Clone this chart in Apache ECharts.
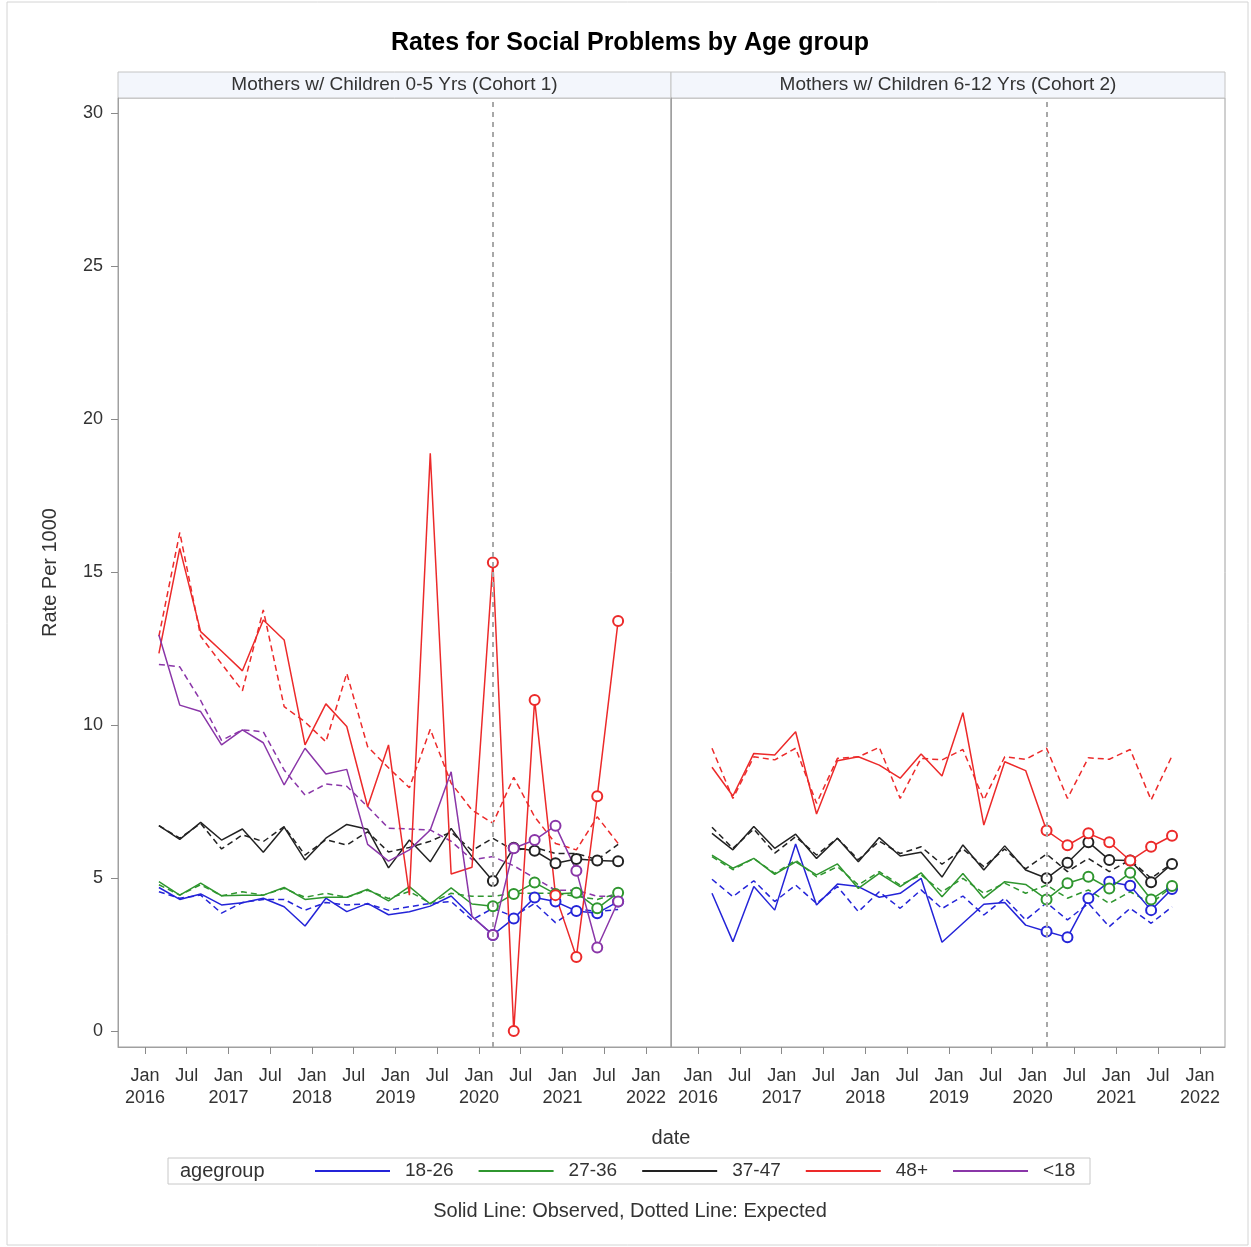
<!DOCTYPE html>
<html><head><meta charset="utf-8">
<script src="https://cdn.jsdelivr.net/npm/echarts@6/dist/echarts.min.js"></script>
<style>html,body{margin:0;padding:0;background:#fff}#c{width:1251px;height:1247px}</style>
</head><body><div id="c"></div>
<script>
// ---------- data ----------
const dates = ['2016-03','2016-06','2016-09','2016-12','2017-03','2017-06','2017-09','2017-12',
  '2018-03','2018-06','2018-09','2018-12','2019-03','2019-06','2019-09','2019-12',
  '2020-03','2020-06','2020-09','2020-12','2021-03','2021-06','2021-09'];
const interventionDate = '2020-03';
const panelTitles = ['Mothers w/ Children 0-5 Yrs (Cohort 1)', 'Mothers w/ Children 6-12 Yrs (Cohort 2)'];
const ageGroups = ['18-26','27-36','37-47','48+','<18'];
const xTickDates = ['2016-01','2016-07','2017-01','2017-07','2018-01','2018-07','2019-01','2019-07',
  '2020-01','2020-07','2021-01','2021-07','2022-01'];
const yTicks = [0,5,10,15,20,25,30];

// Cohort 1 observed / expected
const c1Obs_18_26 = [4.69,4.30,4.48,4.12,4.19,4.34,4.06,3.43,4.34,3.90,4.17,3.80,3.90,4.08,4.41,3.74,3.14,3.68,4.36,4.23,3.92,3.85,4.23];
const c1Exp_18_26 = [4.55,4.34,4.44,3.85,4.20,4.30,4.30,3.95,4.20,4.12,4.15,3.95,4.06,4.17,4.23,3.63,4.01,3.74,4.17,3.54,4.00,3.90,3.97];
const c1Obs_27_36 = [4.88,4.44,4.83,4.42,4.44,4.44,4.69,4.30,4.37,4.37,4.63,4.25,4.72,4.15,4.68,4.15,4.08,4.48,4.85,4.48,4.52,4.01,4.52];
const c1Exp_27_36 = [4.78,4.44,4.78,4.42,4.55,4.44,4.66,4.37,4.50,4.37,4.60,4.33,4.56,4.18,4.50,4.40,4.40,4.50,4.50,4.50,4.40,4.30,4.50];
const c1Obs_37_47 = [6.71,6.26,6.82,6.24,6.60,5.84,6.66,5.59,6.30,6.75,6.59,5.33,6.24,5.53,6.62,5.70,4.90,5.99,5.89,5.48,5.62,5.57,5.55];
const c1Exp_37_47 = [6.71,6.30,6.78,5.95,6.41,6.19,6.68,5.75,6.25,6.08,6.51,5.85,6.00,6.20,6.50,5.90,6.30,5.90,6.00,5.80,5.80,5.60,6.10];
const c1Obs_48 = [12.34,15.77,13.05,12.42,11.77,13.43,12.78,9.35,10.69,9.95,7.33,9.35,4.44,18.88,5.13,5.35,15.31,0.00,10.82,4.44,2.42,7.67,13.40];
const c1Exp_48 = [12.90,16.29,12.90,12.00,11.12,13.76,10.60,10.10,9.45,11.69,9.29,8.60,7.95,9.86,8.10,7.22,6.79,8.29,7.00,6.13,5.92,7.00,6.13];
const c1Obs_lt18 = [12.94,10.65,10.44,9.35,9.84,9.42,8.04,9.24,8.40,8.55,6.10,5.55,5.92,6.57,8.47,3.74,3.14,5.97,6.24,6.71,5.24,2.73,4.23];
const c1Exp_lt18 = [11.98,11.90,10.80,9.50,9.84,9.78,8.53,7.71,8.07,8.00,7.33,6.63,6.60,6.57,6.20,5.60,5.70,5.40,5.00,4.60,4.60,4.40,4.40];

// Cohort 2 observed / expected
const c2Obs_18_26 = [4.50,2.92,4.72,3.95,6.11,4.12,4.80,4.72,4.37,4.50,4.99,2.90,3.52,4.14,4.20,3.46,3.25,3.06,4.34,4.88,4.75,3.95,4.64];
const c2Exp_18_26 = [4.96,4.39,4.91,4.23,4.77,4.17,4.72,3.90,4.55,4.01,4.61,4.00,4.41,3.79,4.34,3.63,4.19,3.63,4.17,3.41,4.01,3.52,4.06];
const c2Obs_27_36 = [5.75,5.32,5.64,5.12,5.53,5.10,5.46,4.66,5.15,4.72,5.17,4.39,5.15,4.34,4.88,4.79,4.30,4.83,5.04,4.66,5.17,4.30,4.74];
const c2Exp_27_36 = [5.70,5.27,5.64,5.15,5.58,5.04,5.37,4.77,5.21,4.77,5.10,4.55,4.99,4.50,4.83,4.50,4.77,4.34,4.61,4.17,4.55,4.17,4.72];
const c2Obs_37_47 = [6.46,5.92,6.68,5.97,6.43,5.64,6.30,5.53,6.32,5.72,5.84,5.03,6.08,5.26,6.05,5.26,4.99,5.50,6.17,5.59,5.57,4.86,5.46];
const c2Exp_37_47 = [6.66,5.97,6.60,5.81,6.35,5.75,6.30,5.60,6.20,5.80,6.02,5.45,5.95,5.37,5.95,5.30,5.78,5.21,5.64,5.21,5.59,4.99,5.48];
const c2Obs_48 = [8.62,7.68,9.07,9.02,9.78,7.09,8.83,8.96,8.69,8.26,9.05,8.33,10.40,6.73,8.80,8.51,6.55,6.07,6.46,6.17,5.57,6.02,6.38];
const c2Exp_48 = [9.24,7.60,8.96,8.86,9.24,7.44,8.91,8.96,9.27,7.60,8.91,8.86,9.20,7.55,8.96,8.88,9.24,7.60,8.93,8.88,9.20,7.55,8.99];

// ---------- chart ----------
const FONT = "'Liberation Sans', Arial, sans-serif";
const colors = {'18-26':'#2424d8','27-36':'#2f962f','37-47':'#222222','48+':'#ec2a2a','<18':'#8a36a8'};
// x position = months since Jan 2016
function mIdx(s){const p=s.split('-');return (+p[0]-2016)*12 + (+p[1]-1);}
const xMin = -3.88, xMax = 75.6;
const breakIdx = dates.indexOf(interventionDate);
const xTickVals = xTickDates.map(mIdx);

const panelData = [
  {'18-26':[c1Obs_18_26,c1Exp_18_26],'27-36':[c1Obs_27_36,c1Exp_27_36],'37-47':[c1Obs_37_47,c1Exp_37_47],'48+':[c1Obs_48,c1Exp_48],'<18':[c1Obs_lt18,c1Exp_lt18]},
  {'18-26':[c2Obs_18_26,c2Exp_18_26],'27-36':[c2Obs_27_36,c2Exp_27_36],'37-47':[c2Obs_37_47,c2Exp_37_47],'48+':[c2Obs_48,c2Exp_48]}
];

const series = [];
panelData.forEach((pd, pi) => {
  let first = true;
  ageGroups.forEach(g => {
    if (!pd[g]) return;
    const [obs, exp] = pd[g];
    const s1 = {
      name: g, type: 'line', xAxisIndex: pi, yAxisIndex: pi,
      data: dates.map((d,i)=>[mIdx(d), exp[i]]),
      symbol: 'none', lineStyle: {color: colors[g], width: 1.5, type: [6,4]},
      itemStyle: {color: colors[g]}, z: 2, silent: true
    };
    if (first) {
      s1.markLine = {symbol:'none', silent:true, label:{show:false},
        lineStyle:{color:'#a8a8a8', type:[5,5], width:2},
        data:[{xAxis: mIdx(interventionDate)}]};
      first = false;
    }
    series.push(s1);
    series.push({
      name: g, type: 'line', xAxisIndex: pi, yAxisIndex: pi,
      data: dates.map((d,i)=>[mIdx(d), obs[i]]),
      symbol: 'emptyCircle', showAllSymbol: true,
      symbolSize: (v,p) => p.dataIndex >= breakIdx ? 10 : 0,
      lineStyle: {color: colors[g], width: 1.5},
      itemStyle: {color: colors[g], borderWidth: 1.3}, z: 3, silent: true
    });
  });
});

const xAxisBase = {
  type: 'value', min: xMin, max: xMax,
  axisLine: {show:true, onZero:false, lineStyle:{color:'#a0a0a0'}},
  axisTick: {show:true, length:7, lineStyle:{color:'#8a8a8a'}, customValues: xTickVals},
  axisLabel: {customValues: xTickVals, margin: 18, fontSize: 18, lineHeight: 22, color:'#333', fontFamily: FONT,
    formatter: v => (Math.round(v) % 12 === 0) ? 'Jan\n' + (2016 + Math.round(v)/12) : 'Jul'},
  splitLine: {show:false}
};
const yAxisBase = {
  type: 'value', min: -0.523, max: 30.49,
  axisLine: {show:true, onZero:false, lineStyle:{color:'#a0a0a0'}},
  splitLine: {show:false}
};

const option = {
  animation: false,
  backgroundColor: '#fff',
  textStyle: {fontFamily: FONT},
  grid: [
    {left:118, top:98, width:553, height:949, show:true, borderColor:'#a0a0a0', borderWidth:1},
    {left:671, top:98, width:554, height:949, show:true, borderColor:'#a0a0a0', borderWidth:1}
  ],
  xAxis: [Object.assign({gridIndex:0}, xAxisBase), Object.assign({gridIndex:1}, xAxisBase)],
  yAxis: [
    Object.assign({gridIndex:0, name:'Rate Per 1000', nameLocation:'middle', nameGap:58,
      nameTextStyle:{fontSize:20, color:'#333', fontFamily: FONT},
      axisTick:{show:true, length:7, lineStyle:{color:'#8a8a8a'}, customValues: yTicks},
      axisLabel:{customValues: yTicks, margin:15, fontSize:18, color:'#333', fontFamily: FONT}}, yAxisBase),
    Object.assign({gridIndex:1, axisTick:{show:false}, axisLabel:{show:false}}, yAxisBase)
  ],
  legend: {
    left: 315, top: 1160, padding: 0, itemGap: 25, itemWidth: 75, itemHeight: 2, icon: 'rect',
    selectedMode: false,
    data: ageGroups.map(g => ({name: g, itemStyle:{color: colors[g]}})),
    textStyle: {fontSize: 19, color:'#333', fontFamily: FONT, padding:[0,0,0,10], lineHeight: 22}
  },
  graphic: [
    {type:'rect', shape:{x:7,y:2,width:1241,height:1243}, style:{fill:'none', stroke:'#d4d4d4', lineWidth:1}, silent:true, z:-10},
    {type:'text', x:630, y:43, style:{text:'Rates for Social Problems by Age group', font:'bold 25px ' + FONT, fill:'#000', textAlign:'center', textVerticalAlign:'middle'}},
    {type:'rect', shape:{x:118,y:72,width:553,height:26}, style:{fill:'#f3f6fc', stroke:'#c4c4c4', lineWidth:1}},
    {type:'rect', shape:{x:671,y:72,width:554,height:26}, style:{fill:'#f3f6fc', stroke:'#c4c4c4', lineWidth:1}},
    {type:'text', x:394.5, y:85, style:{text: panelTitles[0], font:'19px ' + FONT, fill:'#333', textAlign:'center', textVerticalAlign:'middle'}},
    {type:'text', x:948, y:85, style:{text: panelTitles[1], font:'19px ' + FONT, fill:'#333', textAlign:'center', textVerticalAlign:'middle'}},
    {type:'text', x:671, y:1138, style:{text:'date', font:'20px ' + FONT, fill:'#333', textAlign:'center', textVerticalAlign:'middle'}},
    {type:'rect', shape:{x:168,y:1158,width:922,height:26}, style:{fill:'none', stroke:'#c8c8c8', lineWidth:1}},
    {type:'text', x:180, y:1171, style:{text:'agegroup', font:'20px ' + FONT, fill:'#333', textAlign:'left', textVerticalAlign:'middle'}},
    {type:'text', x:630, y:1211, style:{text:'Solid Line: Observed, Dotted Line: Expected', font:'20px ' + FONT, fill:'#333', textAlign:'center', textVerticalAlign:'middle'}}
  ],
  series: series
};
const chart = echarts.init(document.getElementById('c'), null, {renderer:'canvas'});
chart.setOption(option);
</script></body></html>
